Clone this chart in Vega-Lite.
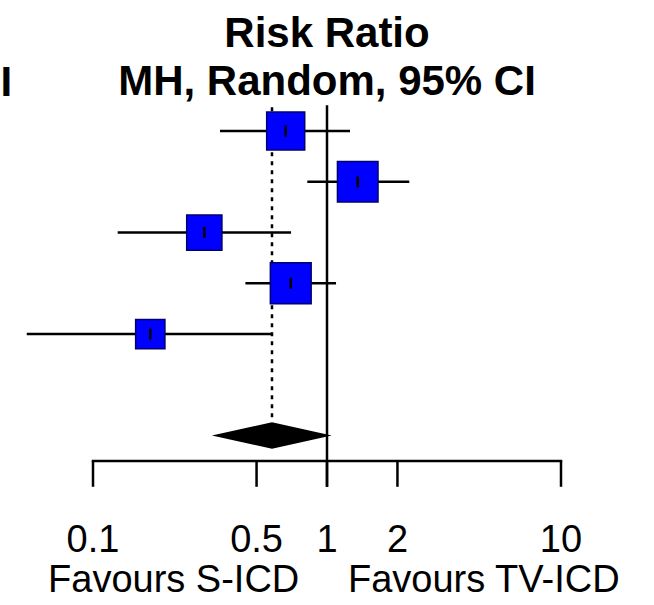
{
  "$schema": "https://vega.github.io/schema/vega-lite/v6.json",
  "width": 654,
  "height": 605,
  "autosize": {"type": "none"},
  "padding": 0,
  "background": "white",
  "config": {"view": {"stroke": null}},
  "data": {"values": [{"ref": "null effect"}]},
  "datasets": {
    "studies": [
      {"study": "Study 1", "row": 1, "rr": 0.666, "lower": 0.349, "upper": 1.254, "weight": 21.1},
      {"study": "Study 2", "row": 2, "rr": 1.353, "lower": 0.824, "upper": 2.247, "weight": 24.0},
      {"study": "Study 3", "row": 3, "rr": 0.299, "lower": 0.1275, "upper": 0.702, "weight": 18.1},
      {"study": "Study 4", "row": 4, "rr": 0.700, "lower": 0.448, "upper": 1.093, "weight": 24.3},
      {"study": "Study 5", "row": 5, "rr": 0.1757, "lower": 0.0521, "upper": 0.584, "weight": 12.5}
    ],
    "pooled": [
      {"rr": 0.322, "ymin": 7, "ymax": 7},
      {"rr": 0.582, "ymin": 6.74, "ymax": 7.26},
      {"rr": 1.047, "ymin": 7, "ymax": 7}
    ],
    "ticks": [
      {"value": 0.1, "label": "0.1"},
      {"value": 0.5, "label": "0.5"},
      {"value": 1, "label": "1"},
      {"value": 2, "label": "2"},
      {"value": 10, "label": "10"}
    ],
    "header": [
      {"text": "Risk Ratio", "rr": 1, "row": -0.661},
      {"text": "MH, Random, 95% CI", "rr": 1, "row": 0.29}
    ],
    "leftcol": [
      {"text": "I", "rr": 0.0402, "row": 0.31}
    ],
    "labelLeft": [
      {"text": "Favours S-ICD", "rr": 0.7615, "row": 10.09}
    ],
    "labelRight": [
      {"text": "Favours TV-ICD", "rr": 1.229, "row": 10.09}
    ]
  },
  "layer": [
    {
      "mark": {"type": "rule", "color": "black", "strokeWidth": 2.5, "strokeDash": [4, 5]},
      "encoding": {
        "x": {"datum": 0.582, "type": "quantitative", "scale": {"type": "log", "domain": [0.040046, 24.971], "nice": false}, "axis": null},
        "y": {"datum": 0.53, "type": "quantitative", "scale": {"domain": [-1.5813, 10.3389], "reverse": true, "nice": false, "zero": false}, "axis": null},
        "y2": {"datum": 6.74}
      }
    },
    {
      "mark": {"type": "rule", "color": "black", "strokeWidth": 2.5},
      "encoding": {
        "x": {"datum": 1, "type": "quantitative", "axis": null},
        "y": {"datum": 0.49, "type": "quantitative", "axis": null},
        "y2": {"datum": 8.01}
      }
    },
    {
      "mark": {"type": "rule", "color": "black", "strokeWidth": 2.5, "strokeCap": "square"},
      "encoding": {
        "x": {"datum": 0.1, "type": "quantitative", "axis": null},
        "x2": {"datum": 10},
        "y": {"datum": 7.5, "type": "quantitative", "axis": null}
      }
    },
    {
      "data": {"name": "ticks"},
      "mark": {"type": "rule", "color": "black", "strokeWidth": 2.5},
      "encoding": {
        "x": {"field": "value", "type": "quantitative", "axis": null},
        "y": {"datum": 7.5, "type": "quantitative", "axis": null},
        "y2": {"datum": 8.01}
      }
    },
    {
      "data": {"name": "ticks"},
      "mark": {"type": "text", "font": "Liberation Sans", "fontSize": 38, "align": "center", "baseline": "alphabetic", "color": "black"},
      "encoding": {
        "x": {"field": "value", "type": "quantitative", "axis": null},
        "y": {"datum": 9.29, "type": "quantitative", "axis": null},
        "text": {"field": "label"}
      }
    },
    {
      "data": {"name": "studies"},
      "mark": {"type": "rule", "color": "black", "strokeWidth": 2.5},
      "encoding": {
        "x": {"field": "lower", "type": "quantitative", "axis": null},
        "x2": {"field": "upper"},
        "y": {"field": "row", "type": "quantitative", "axis": null}
      }
    },
    {
      "data": {"name": "studies"},
      "mark": {"type": "point", "shape": "square", "filled": true, "fill": "#0000FF", "stroke": "#00006E", "strokeWidth": 1.5, "opacity": 1},
      "encoding": {
        "x": {"field": "rr", "type": "quantitative", "axis": null},
        "y": {"field": "row", "type": "quantitative", "axis": null},
        "size": {"field": "weight", "type": "quantitative", "scale": {"type": "linear", "domain": [0, 24.3], "range": [0, 1665], "zero": true}, "legend": null}
      }
    },
    {
      "data": {"name": "studies"},
      "mark": {"type": "tick", "orient": "vertical", "color": "black", "size": 11, "thickness": 2.5, "opacity": 1},
      "encoding": {
        "x": {"field": "rr", "type": "quantitative", "axis": null},
        "y": {"field": "row", "type": "quantitative", "axis": null}
      }
    },
    {
      "data": {"name": "pooled"},
      "mark": {"type": "area", "orient": "vertical", "color": "black", "opacity": 1, "interpolate": "linear"},
      "encoding": {
        "x": {"field": "rr", "type": "quantitative", "axis": null},
        "y": {"field": "ymin", "type": "quantitative", "axis": null},
        "y2": {"field": "ymax"}
      }
    },
    {
      "data": {"name": "header"},
      "mark": {"type": "text", "font": "Liberation Sans", "fontWeight": "bold", "fontSize": 42, "align": "center", "baseline": "alphabetic", "color": "black"},
      "encoding": {
        "x": {"field": "rr", "type": "quantitative", "axis": null},
        "y": {"field": "row", "type": "quantitative", "axis": null},
        "text": {"field": "text"}
      }
    },
    {
      "data": {"name": "leftcol"},
      "mark": {"type": "text", "font": "Liberation Sans", "fontWeight": "bold", "fontSize": 42, "align": "left", "baseline": "alphabetic", "color": "black"},
      "encoding": {
        "x": {"field": "rr", "type": "quantitative", "axis": null},
        "y": {"field": "row", "type": "quantitative", "axis": null},
        "text": {"field": "text"}
      }
    },
    {
      "data": {"name": "labelLeft"},
      "mark": {"type": "text", "font": "Liberation Sans", "fontSize": 38, "align": "right", "baseline": "alphabetic", "color": "black"},
      "encoding": {
        "x": {"field": "rr", "type": "quantitative", "axis": null},
        "y": {"field": "row", "type": "quantitative", "axis": null},
        "text": {"field": "text"}
      }
    },
    {
      "data": {"name": "labelRight"},
      "mark": {"type": "text", "font": "Liberation Sans", "fontSize": 38, "align": "left", "baseline": "alphabetic", "color": "black"},
      "encoding": {
        "x": {"field": "rr", "type": "quantitative", "axis": null},
        "y": {"field": "row", "type": "quantitative", "axis": null},
        "text": {"field": "text"}
      }
    }
  ]
}
